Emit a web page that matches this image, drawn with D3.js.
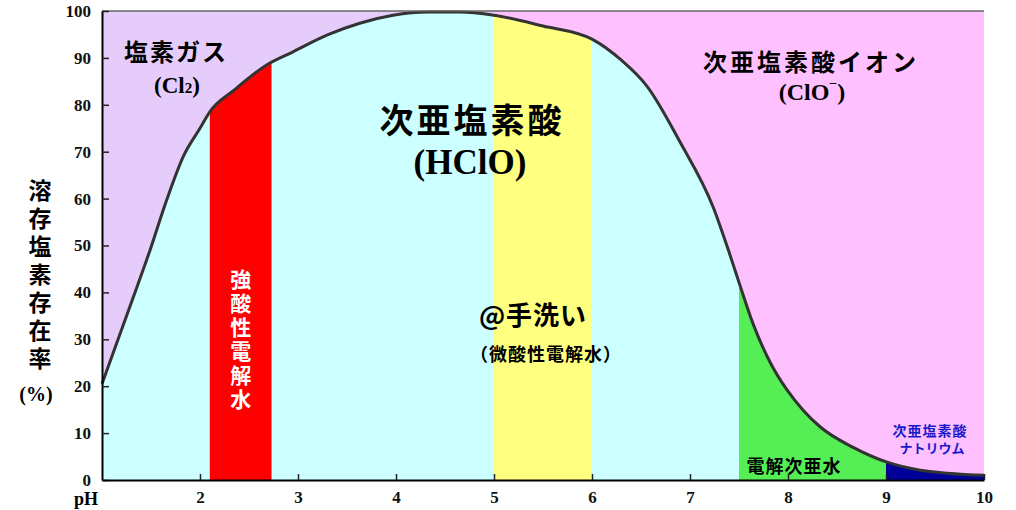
<!DOCTYPE html>
<html lang="ja">
<head>
<meta charset="UTF-8">
<title>pHと溶存塩素存在率</title>
<script src="https://d3js.org/d3.v7.min.js"></script>
<style>
    body { margin: 0; background: #fff; }
    svg { display: block; }
    .jp { font-family: "Noto Sans CJK JP", sans-serif; font-weight: bold; }
    .num { font-family: "Liberation Serif", "Times New Roman", serif; font-weight: bold; }
</style>
</head>
<body>
<svg width="1016" height="510"></svg>
<script>
    // HClO share (%) at each pH
    const phPoints = [1, 1.32, 1.49, 1.66, 1.83, 2.0, 2.1, 2.34, 2.68, 2.95, 3.3, 3.63, 3.97, 4.32, 4.65, 5.0, 5.5, 6.0, 6.3, 6.56, 6.9, 7.24, 7.4, 7.51, 7.64, 7.82, 7.99, 8.15, 8.33, 8.66, 9.01, 9.35, 10];
    const hcloPct  = [20.5, 39, 49, 59.7, 69, 75, 78.5, 83, 88.5, 91.3, 94.9, 97.4, 99.1, 99.8, 99.8, 99.1, 96.8, 94, 89.5, 84, 72, 58, 48.5, 41.5, 33.5, 25, 19.2, 15, 11.3, 7, 3.8, 2.1, 1];

    // pH ranges of the water types
    const bandNames = ["強酸性電解水", "微酸性電解水", "電解次亜水", "次亜塩素酸ナトリウム"];
    const bandFrom  = [2.1, 5.0, 7.5, 9.0];
    const bandTo    = [2.73, 6.0, 9.0, 10.0];
    const bandColor = ["#ff0000", "#ffff80", "#55ee55", "#000099"];

    // species zones above the curve
    const zoneFrom = [1, 5];
    const zoneTo   = [5, 10];
    const zoneColor = ["#e6ccfa", "#ffc0ff"];

    const xTicks = [2, 3, 4, 5, 6, 7, 8, 9, 10];
    const yTicks = [0, 10, 20, 30, 40, 50, 60, 70, 80, 90, 100];

    const svg = d3.select("svg");
    const x = d3.scaleLinear().domain([1, 10]).range([102, 984]);
    const y = d3.scaleLinear().domain([0, 100]).range([480, 11]);

    const data = phPoints.map((p, i) => ({ ph: p, v: hcloPct[i] }));

    // zone backgrounds
    svg.append("g").selectAll("rect")
        .data(zoneFrom)
        .join("rect")
        .attr("x", (d, i) => x(d))
        .attr("y", y(100))
        .attr("width", (d, i) => x(zoneTo[i]) - x(d))
        .attr("height", y(0) - y(100))
        .attr("fill", (d, i) => zoneColor[i]);

    const area = d3.area()
        .x(d => x(d.ph))
        .y0(y(0))
        .y1(d => y(d.v))
        .curve(d3.curveMonotoneX);

    const line = d3.line()
        .x(d => x(d.ph))
        .y(d => y(d.v))
        .curve(d3.curveMonotoneX);

    // HClO area
    svg.append("path")
        .attr("d", area(data))
        .attr("fill", "#ccffff");

    // bands clipped under the curve
    const defs = svg.append("defs");
    bandFrom.forEach((f, i) => {
        defs.append("clipPath").attr("id", "band" + i)
            .append("rect")
            .attr("x", x(f))
            .attr("y", 0)
            .attr("width", x(bandTo[i]) - x(f))
            .attr("height", 510);
        svg.append("path")
            .attr("d", area(data))
            .attr("fill", bandColor[i])
            .attr("clip-path", "url(#band" + i + ")");
    });

    // curve
    svg.append("path")
        .attr("d", line(data))
        .attr("fill", "none")
        .attr("stroke", "#333")
        .attr("stroke-width", 3);

    // top frame line
    svg.append("line")
        .attr("x1", x(1)).attr("x2", x(10))
        .attr("y1", y(100)).attr("y2", y(100))
        .attr("stroke", "#666").attr("stroke-width", 1.5);

    // axes
    const yAxis = svg.append("g")
        .attr("transform", `translate(${x(1)},0)`)
        .call(d3.axisLeft(y).tickValues(yTicks).tickSizeInner(-7).tickSizeOuter(0).tickPadding(11));
    const xAxis = svg.append("g")
        .attr("transform", `translate(0,${y(0)})`)
        .call(d3.axisBottom(x).tickValues(xTicks).tickSizeInner(-6).tickSizeOuter(0).tickPadding(11));

    [xAxis, yAxis].forEach(g => {
        g.attr("font-family", null).attr("font-size", null);
        g.select(".domain").attr("stroke", "#000").attr("stroke-width", 2);
        g.selectAll(".tick line").attr("stroke", "#222").attr("stroke-width", 1.5);
        g.selectAll(".tick text").attr("class", "num").attr("font-size", 17).attr("fill", "#111");
    });

    svg.append("text").attr("class", "num")
        .attr("x", 86).attr("y", 505)
        .attr("text-anchor", "middle").attr("font-size", 18)
        .text("pH");

    // y title, stacked vertically
    const yTitle = "溶存塩素存在率".split("");
    svg.append("g").selectAll("text")
        .data(yTitle)
        .join("text")
        .attr("class", "jp")
        .attr("x", 40)
        .attr("y", (d, i) => 189 + i * 28)
        .attr("dominant-baseline", "central")
        .attr("text-anchor", "middle")
        .attr("font-size", 23)
        .text(d => d);
    svg.append("text").attr("class", "num")
        .attr("x", 36).attr("y", 394)
        .attr("dominant-baseline", "central")
        .attr("text-anchor", "middle").attr("font-size", 20)
        .text("(%)");

    // labels
    function label(txt, px, py, size, cls, extra) {
        const t = svg.append("text")
            .attr("class", cls)
            .attr("x", px).attr("y", py)
            .attr("text-anchor", "middle")
            .attr("dominant-baseline", "central")
            .attr("font-size", size)
            .text(txt);
        if (extra) extra(t);
        return t;
    }

    label("塩素ガス", 176, 50, 24, "jp", t => t.attr("letter-spacing", 2));
    const cl2 = label("(Cl", 177, 85, 23, "num");
    cl2.append("tspan").attr("font-size", 15).attr("dy", 3).text("2");
    cl2.append("tspan").attr("dy", -3).text(")");

    label("次亜塩素酸", 472, 118, 34, "jp", t => t.attr("letter-spacing", 3));
    label("(HClO)", 470, 162, 35, "num");

    label("次亜塩素酸イオン", 811, 60, 24, "jp", t => t.attr("letter-spacing", 3));
    const clo = label("(ClO", 812, 92, 24, "num");
    clo.append("tspan").attr("font-size", 14).attr("dy", -9).text("−");
    clo.append("tspan").attr("dy", 9).text(")");

    // 強酸性電解水 vertical, white on red
    svg.append("g").selectAll("text")
        .data(bandNames[0].split(""))
        .join("text")
        .attr("class", "jp")
        .attr("x", (x(bandFrom[0]) + x(bandTo[0])) / 2)
        .attr("y", (d, i) => 278 + i * 24)
        .attr("text-anchor", "middle")
        .attr("dominant-baseline", "central")
        .attr("font-size", 21)
        .attr("fill", "#fff")
        .text(d => d);

    label("@手洗い", 533, 313, 26, "jp", t => t.attr("letter-spacing", 1));
    label("（" + bandNames[1] + "）", 546, 353, 18, "jp", t => t.attr("letter-spacing", 1));
    label(bandNames[2], 794, 465, 18, "jp", t => t.attr("letter-spacing", 1));
    label("次亜塩素酸", 930, 430, 14, "jp", t => t.attr("fill", "#1a1acc").attr("letter-spacing", 1));
    label("ナトリウム", 932, 447, 13, "jp", t => t.attr("fill", "#1a1acc"));
</script>
</body>
</html>
